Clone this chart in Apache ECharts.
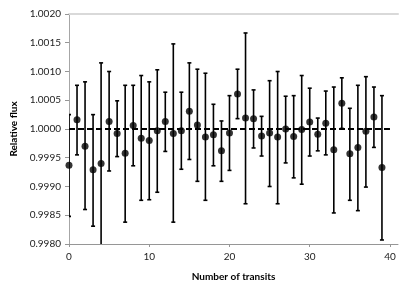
<!DOCTYPE html>
<html>
<head>
<meta charset="utf-8">
<script src="https://cdn.jsdelivr.net/npm/echarts@6/dist/echarts.min.js"></script>
<style>html,body{margin:0;padding:0;background:#fff}#c{width:415px;height:293px}</style>
</head>
<body>
<div id="c"></div>
<script>
const transits = [0,1,2,3,4,5,6,7,8,9,10,11,12,13,14,15,16,17,18,19,20,21,22,23,24,25,26,27,28,29,30,31,32,33,34,35,36,37,38,39];
const flux = [0.99937,1.00016,0.99970,0.99929,0.99940,1.00013,0.99992,0.99958,1.00006,0.99984,0.99980,0.99997,1.00013,0.99992,0.99997,1.00031,1.00007,0.99986,0.99990,0.99962,0.99993,1.00061,1.00019,1.00018,0.99988,0.99993,0.99986,1.00000,0.99987,0.99999,1.00012,0.99991,1.00010,0.99964,1.00045,0.99957,0.99968,0.99996,1.00021,0.99933];
const upper = [1.00025,1.00076,1.00082,1.00025,1.00115,1.00100,1.00049,1.00076,1.00076,1.00093,1.00082,1.00103,1.00064,1.00148,1.00064,1.00115,1.00104,1.00097,1.00043,1.00014,1.00058,1.00104,1.00167,1.00068,1.00022,1.00084,1.00100,1.00057,1.00058,1.00093,1.00071,1.00019,1.00066,1.00073,1.00089,1.00036,1.00076,1.00091,1.00073,1.00058];
const lower = [0.99848,0.99955,0.99860,0.99831,0.99765,0.99927,0.99952,0.99838,0.99936,0.99876,0.99877,0.99890,0.99961,0.99838,0.99930,0.99947,0.99909,0.99876,0.99936,0.99909,0.99928,1.00018,0.99870,0.99967,0.99953,0.99900,0.99870,0.99941,0.99915,0.99904,0.99953,0.99962,0.99955,0.99854,1.00001,0.99876,0.99858,0.99899,0.99968,0.99807];
const refLineX = [0, 40];
const refLineY = [1.0, 1.0];

const FONT = 'Lato, "Open Sans", sans-serif';
const chart = echarts.init(document.getElementById('c'), null, {renderer: 'canvas'});
const pts = transits.map((x, i) => [x, flux[i]]);
const bars = transits.map((x, i) => [x, lower[i], upper[i]]);
const ref = refLineX.map((x, i) => [x, refLineY[i]]);

chart.setOption({
  animation: false,
  grid: {left: 69, top: 14, right: 17, bottom: 49, containLabel: false},
  xAxis: [{
    type: 'value', min: 0, max: 41, interval: 10,
    name: 'Number of transits', nameLocation: 'middle', nameGap: 28,
    nameTextStyle: {fontFamily: FONT, fontSize: 10, fontWeight: 'bold', color: '#000'},
    axisLine: {show: true, lineStyle: {color: '#969696', width: 1}},
    axisTick: {show: true, inside: false, length: 3, lineStyle: {color: '#969696'}},
    axisLabel: {fontFamily: FONT, fontSize: 10, color: '#222', margin: 8, showMaxLabel: false},
    splitLine: {show: false}
  }, {
    type: 'value', position: 'top', min: 0, max: 41,
    axisLine: {show: true, lineStyle: {color: '#d9d9d9', width: 2}},
    axisTick: {show: false}, axisLabel: {show: false}, splitLine: {show: false}
  }],
  yAxis: [{
    type: 'value', min: 0.998, max: 1.002, interval: 0.0005,
    name: 'Relative flux', nameLocation: 'middle', nameGap: 42, nameRotate: 90,
    nameTextStyle: {fontFamily: FONT, fontSize: 10, fontWeight: 'bold', color: '#000'},
    axisLine: {show: true, lineStyle: {color: '#969696', width: 1}},
    axisTick: {show: true, inside: false, length: 4, lineStyle: {color: '#969696'}},
    axisLabel: {fontFamily: FONT, fontSize: 10, color: '#222', margin: 8,
      formatter: v => v.toFixed(4)},
    splitLine: {show: false}
  }, {
    type: 'value', position: 'right', min: 0.998, max: 1.002,
    axisLine: {show: true, lineStyle: {color: '#a6a6a6', width: 1}},
    axisTick: {show: false}, axisLabel: {show: false}, splitLine: {show: false}
  }],
  series: [{
    type: 'line', data: ref, symbol: 'none', z: 1,
    lineStyle: {color: '#000', width: 2, type: [6, 3]}
  }, {
    type: 'custom', data: bars, z: 2, clip: true,
    renderItem: function (params, api) {
      const x = api.value(0);
      const lo = api.coord([x, api.value(1)]);
      const hi = api.coord([x, api.value(2)]);
      const c = 2;
      const style = {stroke: '#000', lineWidth: 1.6};
      return {type: 'group', children: [
        {type: 'line', shape: {x1: lo[0], y1: lo[1], x2: hi[0], y2: hi[1]}, style},
        {type: 'line', shape: {x1: hi[0]-c, y1: hi[1], x2: hi[0]+c, y2: hi[1]}, style},
        {type: 'line', shape: {x1: lo[0]-c, y1: lo[1], x2: lo[0]+c, y2: lo[1]}, style}
      ]};
    }
  }, {
    type: 'scatter', data: pts, symbol: 'circle', symbolSize: 7, z: 3,
    itemStyle: {color: '#000'}
  }]
});
</script>
</body>
</html>
